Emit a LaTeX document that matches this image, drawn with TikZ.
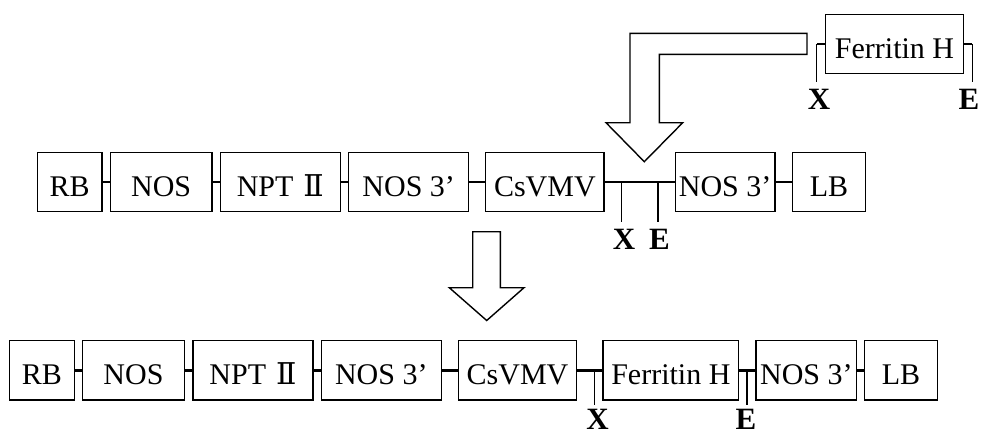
\documentclass[tikz,border=0pt]{standalone}
\usepackage{fontspec}
\setmainfont{Liberation Serif}
\newfontfamily\numfont{DejaVu Serif}
\begin{document}
\begin{tikzpicture}[x=1pt,y=-1pt,
  every node/.style={font=\fontsize{30}{36}\selectfont},
  box/.style={draw, line width=1.4pt, inner sep=0pt, minimum height=59.4pt,
              text height=29pt, text depth=0pt},
  conn/.style={line width=2.4pt},
  tick/.style={line width=1.2pt},
  site/.style={font=\fontsize{31}{36}\selectfont\bfseries, inner sep=0pt,
               text height=21pt, text depth=0pt},
  bigarrow/.style={draw, line width=1.4pt, fill=white, line join=miter}
]
\useasboundingbox (0,0) rectangle (981,439);

% ---- insert: Ferritin H fragment with its cut sites ----
\node[box, minimum width=137.6pt, minimum height=59pt] (fhtop) at (894.5,43.8) {Ferritin H};
\coordinate (xtopa) at (816.5,43.8);
\coordinate (xtopb) at (816.5,82.3);
\coordinate (etopa) at (972.3,43.8);
\coordinate (etopb) at (972.3,82.3);
\draw[conn] (fhtop.west) -- (xtopa);
\draw[tick] (xtopa) -- (xtopb);
\draw[conn] (fhtop.east) -- (etopa);
\draw[tick] (etopa) -- (etopb);
\node[site] (xtop) at (819,99) {X};
\node[site] (etop) at (969,99) {E};

% bent insertion arrow
\draw[bigarrow] (807,33.3) -- (630,33.3) -- (630,122.7) -- (606,122.7)
  -- (644.3,161.7) -- (682.7,122.7) -- (659.3,122.7) -- (659.3,54.3)
  -- (807,54.3) -- cycle;

% ---- vector before insertion ----
\node[box, minimum width=64.7pt]  (rb1)   at (69.65,182) {RB};
\node[box, minimum width=101.7pt] (nos1)  at (161.15,182) {NOS};
\node[box, minimum width=120pt]   (npt1)  at (280.3,182) {NPT\hskip10pt{\numfont Ⅱ}};
\node[box, minimum width=120pt]   (nosa1) at (408.7,182) {NOS 3’};
\node[box, minimum width=118.3pt] (cs1)   at (544.85,182) {CsVMV};
\node[box, minimum width=99.7pt]  (nosb1) at (725.15,182) {NOS 3’};
\node[box, minimum width=72.6pt]  (lb1)   at (829,182) {LB};
\draw[conn] (rb1) -- (nos1);
\draw[conn] (nos1) -- (npt1);
\draw[conn] (npt1) -- (nosa1);
\draw[conn] (nosa1) -- (cs1);
\draw[conn] (cs1) -- (nosb1);
\draw[conn] (nosb1) -- (lb1);
\coordinate (x1a) at (621.3,182);
\coordinate (x1b) at (621.3,222);
\coordinate (e1a) at (658,182);
\coordinate (e1b) at (658,222);
\draw[tick] (x1a) -- (x1b);
\draw[tick] (e1a) -- (e1b);
\node[site] (x1) at (624,238.5) {X};
\node[site] (e1) at (659.5,238.5) {E};

% straight arrow to the recombinant vector
\draw[bigarrow] (472.7,231.7) -- (500.3,231.7) -- (500.3,287.7) -- (524,287.7)
  -- (486.7,320.5) -- (449.3,287.7) -- (472.7,287.7) -- cycle;

% ---- vector after insertion ----
\node[box, minimum width=65pt]    (rb2)   at (41.8,370.35) {RB};
\node[box, minimum width=101.6pt] (nos2)  at (133.5,370.35) {NOS};
\node[box, minimum width=120pt]   (npt2)  at (253,370.35) {NPT\hskip10pt{\numfont Ⅱ}};
\node[box, minimum width=120pt]   (nosa2) at (381.3,370.35) {NOS 3’};
\node[box, minimum width=118.4pt] (cs2)   at (517.5,370.35) {CsVMV};
\node[box, minimum width=135.7pt] (fh2)   at (670.85,370.35) {Ferritin H};
\node[box, minimum width=100.7pt] (nosb2) at (806.35,370.35) {NOS 3’};
\node[box, minimum width=72.6pt]  (lb2)   at (901,370.35) {LB};
\draw[conn] (rb2) -- (nos2);
\draw[conn] (nos2) -- (npt2);
\draw[conn] (npt2) -- (nosa2);
\draw[conn] (nosa2) -- (cs2);
\draw[conn] (cs2) -- (fh2);
\draw[conn] (fh2) -- (nosb2);
\draw[conn] (nosb2) -- (lb2);
\coordinate (x2a) at (594.3,370.35);
\coordinate (x2b) at (594.3,405);
\coordinate (e2a) at (747,370.35);
\coordinate (e2b) at (747,405);
\draw[tick] (x2a) -- (x2b);
\draw[tick] (e2a) -- (e2b);
\node[site] (x2) at (597.5,419) {X};
\node[site] (e2) at (746,419) {E};
\end{tikzpicture}
\end{document}
